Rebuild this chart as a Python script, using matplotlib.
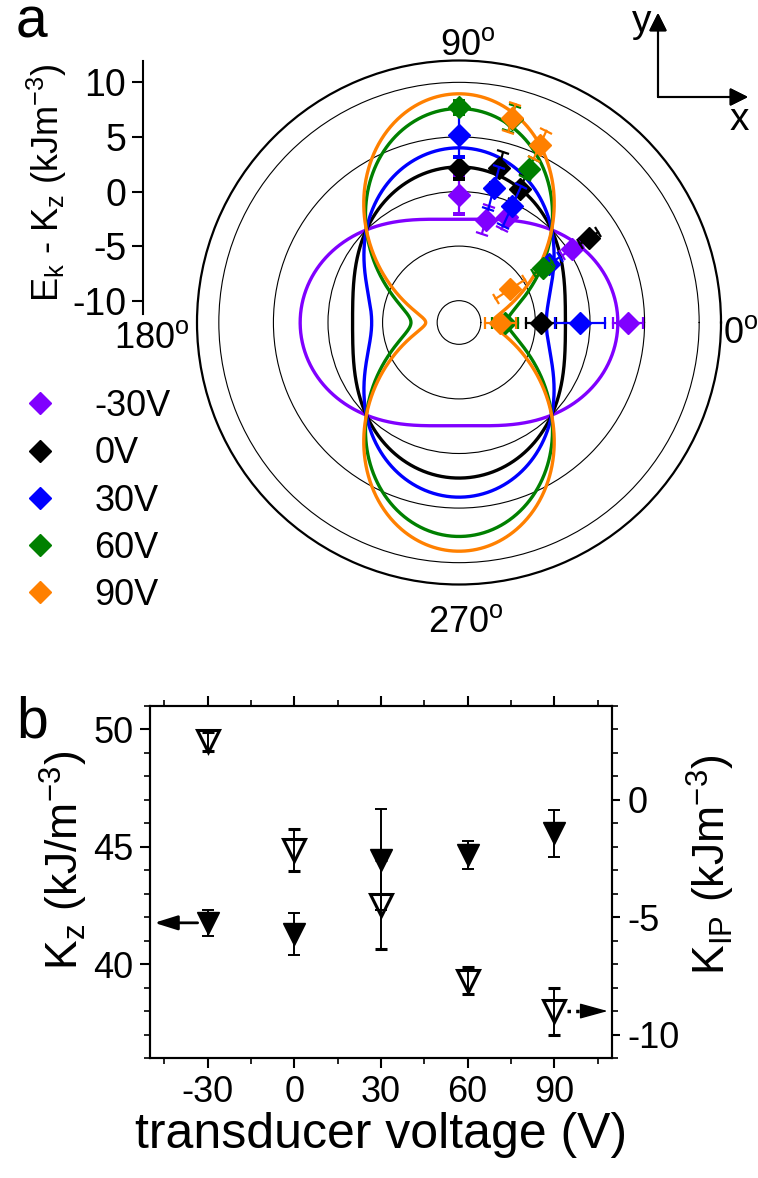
import numpy as np
import matplotlib
matplotlib.use('Agg')
import matplotlib.pyplot as plt
from matplotlib.markers import MarkerStyle
from matplotlib.transforms import Affine2D

plt.rcParams['font.family'] = 'Liberation Sans'
plt.rcParams['mathtext.fontset'] = 'custom'
plt.rcParams['mathtext.rm'] = 'Liberation Sans'
plt.rcParams['mathtext.it'] = 'Liberation Sans:italic'
plt.rcParams['axes.unicode_minus'] = False

W, H = 758, 1178

# ---- (a) angular dependence, E_k - K_z in kJ/m^3 ----
labels = ['-30V', '0V', '30V', '60V', '90V']
colors = ['#8000ff', 'black', '#0000ff', '#008000', '#ff8000']

ang = [0, 33, 65.5, 75.5, 90]
ang_90v = [0, 33, 65.5, 75.5]

ek_m30 = [3.5, 0.3, -1.4, -2.3, -0.3]
ek_0 = [-4.5, 2.2, 1.4, 2.6, 2.15]
ek_30 = [-0.9, -2.2, -0.3, 0.7, 5.2]
ek_60 = [-7.8, -2.8, 3.5, 7.3, 7.7]
ek_90 = [-8.2, -6.4, 5.9, 7.35]

err_m30 = [1.4, 1.0, 1.2, 1.3, 1.8]
err_0 = [1.4, 1.0, 1.2, 1.5, 1.0]
err_30 = [2.3, 1.2, 2.0, 2.0, 2.0]
err_60 = [1.2, 1.0, 1.0, 1.2, 0.6]
err_90 = [1.4, 1.6, 1.4, 1.3]

# fitted in-plane amplitude for each voltage, E = K cos(2 theta)
k_fit = [2.55, -2.25, -4.0, -7.6, -8.95]

# ---- (b) anisotropy constants vs transducer voltage ----
volt = [-30, 0, 30, 60, 90]
kz = [41.76, 41.3, 44.45, 44.65, 45.57]
kz_err = [0.55, 0.9, 2.15, 0.6, 1.0]
kip = [2.5, -2.15, -4.47, -7.7, -9.0]
kip_err = [0.4, 0.9, 1.9, 0.57, 1.0]

fig = plt.figure(figsize=(W / 100, H / 100), dpi=100)

cx, cy, R = 459, 322.5, 262
ax = fig.add_axes([(cx - R) / W, (H - cy - R) / H, 2 * R / W, 2 * R / H], projection='polar')
ax.set_rlim(-12, 12)
ax.set_rgrids([-10, -5, 0, 5, 10], labels=[])
ax.yaxis.grid(True, color='k', lw=0.8)
ax.xaxis.grid(False)
ax.set_xticks(np.deg2rad(np.arange(0, 360, 30)))
ax.set_xticklabels([])
ax.tick_params(axis='x', direction='in', length=8, width=1.3)
ax.tick_params(axis='y', length=0)
ax.spines['polar'].set_linewidth(1.6)

series = [
    (ang, ek_m30, err_m30),
    (ang, ek_0, err_0),
    (ang, ek_30, err_30),
    (ang, ek_60, err_60),
    (ang_90v, ek_90, err_90),
]

theta = np.linspace(0, 2 * np.pi, 1441)
handles = []
for i, ((a, v, e), c, k) in enumerate(zip(series, colors, k_fit)):
    ax.plot(theta, k * np.cos(2 * theta), color=c, lw=2.4, zorder=2 + i * 0.1)
for i, ((a, v, e), c) in enumerate(zip(series, colors)):
    z = 3 + i * 0.1
    for ai, vi, ei in zip(a, v, e):
        th = np.deg2rad(ai)
        ax.plot([th, th], [vi - ei, vi + ei], color=c, lw=1.6, zorder=z)
        cap = MarkerStyle('|', transform=Affine2D().rotate_deg(ai))
        ax.plot([th, th], [vi - ei, vi + ei], ls='none', marker=cap, ms=9,
                mew=1.6, color=c, zorder=z)
    h, = ax.plot(np.deg2rad(a), v, 'D', ms=11, color=c, ls='none', zorder=z)
    handles.append(h)


def ftext(x, y, s, **kw):
    return fig.text(x / W, 1 - y / H, s, **kw)


# angle labels
ftext(468, 55, r'90$^\mathrm{o}$', fontsize=26, ha='center', va='baseline')
ftext(723, 343, r'0$^\mathrm{o}$', fontsize=26, ha='left', va='baseline')
ftext(190, 348, r'180$^\mathrm{o}$', fontsize=26, ha='right', va='baseline')
ftext(466, 632, r'270$^\mathrm{o}$', fontsize=26, ha='center', va='baseline')

# radial scale drawn as a separate vertical axis, from the centre up to the rim
axr = fig.add_axes([143 / W, (H - cy) / H, 1e-4, R / H])
axr.set_ylim(-12, 12)
axr.patch.set_visible(False)
for s in ['top', 'right', 'bottom']:
    axr.spines[s].set_visible(False)
axr.spines['left'].set_linewidth(1.5)
axr.spines['left'].set_bounds(-11.2, 12)
axr.set_xticks([])
axr.set_yticks([-10, -5, 0, 5, 10])
axr.tick_params(axis='y', direction='out', length=8, width=1.5, labelsize=27, pad=4)
ftext(47, 183, r'E$_\mathrm{k}$ - K$_\mathrm{z}$ (kJm$^{\mathrm{-3}}$)', fontsize=26,
      rotation=90, ha='center', va='center')

fig.legend(handles, labels, loc='upper left', bbox_to_anchor=(22 / W, 1 - 389 / H),
           frameon=False, fontsize=26, handlelength=1.0, handletextpad=1.0,
           labelspacing=0.34, borderpad=0, borderaxespad=0)

# x/y orientation arrows
ox, oy = 658, H - 97
arr_kw = dict(arrowstyle='-|>,head_length=0.6,head_width=0.3', color='k', lw=1.5,
              mutation_scale=18, shrinkA=0, shrinkB=0)
fig.add_artist(plt.annotate('', xy=(ox, H - 13), xytext=(ox, oy), xycoords='figure pixels',
                            textcoords='figure pixels', arrowprops=arr_kw))
fig.add_artist(plt.annotate('', xy=(748, oy), xytext=(ox, oy), xycoords='figure pixels',
                            textcoords='figure pixels', arrowprops=arr_kw))
ftext(642, 32, 'y', fontsize=28, ha='center', va='baseline')
ftext(739, 130, 'x', fontsize=28, ha='center', va='baseline')

ftext(16, 38, 'a', fontsize=41, ha='left', va='baseline')
ftext(16, 737, 'b', fontsize=41, ha='left', va='baseline')

# ---- panel b ----
ax2 = fig.add_axes([150 / W, (H - 1058) / H, 462 / W, 352 / H])
ax2r = ax2.twinx()
ax2.set_xlim(-50, 110)
ax2.set_ylim(36, 51)
ax2r.set_ylim(-11, 4)

ax2.errorbar(volt, kz, yerr=kz_err, fmt='v', ms=16, color='k', elinewidth=1.4,
             capsize=4, capthick=1.4)
ax2r.errorbar(volt, kip, yerr=kip_err, fmt='v', ms=16, mfc='none', mec='k', mew=2.2,
              ecolor='k', elinewidth=1.4, capsize=4, capthick=1.4)

ax2.annotate('', xy=(-48.5, kz[0]), xytext=(-33.5, kz[0]),
             arrowprops=dict(arrowstyle='-|>,head_length=0.7,head_width=0.22', color='k',
                             lw=2, mutation_scale=20, shrinkA=0, shrinkB=0))
ax2r.plot([94.5, 101], [kip[-1], kip[-1]], ls=(0, (1, 1.5)), color='k', lw=2.5)
ax2r.annotate('', xy=(108.5, kip[-1]), xytext=(100.5, kip[-1]),
              arrowprops=dict(arrowstyle='-|>,head_length=0.8,head_width=0.22', color='k',
                              lw=1, mutation_scale=22, shrinkA=0, shrinkB=0))

ax2.set_xticks(volt)
ax2.set_xticks(np.arange(-45, 110, 15), minor=True)
ax2.set_yticks([40, 45, 50])
ax2.set_yticks(np.arange(36, 52, 1), minor=True)
ax2r.set_yticks([-10, -5, 0])
ax2r.set_yticks(np.arange(-11, 5, 1), minor=True)
for a_ in (ax2, ax2r):
    for s in a_.spines.values():
        s.set_linewidth(1.5)
ax2.tick_params(which='major', direction='out', length=7, width=1.5, labelsize=26, pad=5)
ax2.tick_params(which='minor', direction='out', length=4, width=1.2)
ax2.tick_params(axis='x', which='both', top=True)
ax2r.tick_params(which='major', direction='out', length=6, width=1.5, labelsize=26, pad=5)
ax2r.tick_params(which='minor', direction='out', length=4, width=1.2)
ax2.set_xlabel('transducer voltage (V)', fontsize=36, labelpad=2)
ax2.set_ylabel(r'K$_\mathrm{z}$ (kJ/m$^{\mathrm{-3}}$)', fontsize=32)
ax2.yaxis.set_label_coords((90 - 150) / 462, 0.56)
ax2r.set_ylabel(r'K$_\mathrm{IP}$ (kJm$^{\mathrm{-3}}$)', fontsize=32, rotation=90)
ax2r.yaxis.set_label_coords((685 - 150) / 462, 0.55)

fig.savefig('out.png', dpi=100)
